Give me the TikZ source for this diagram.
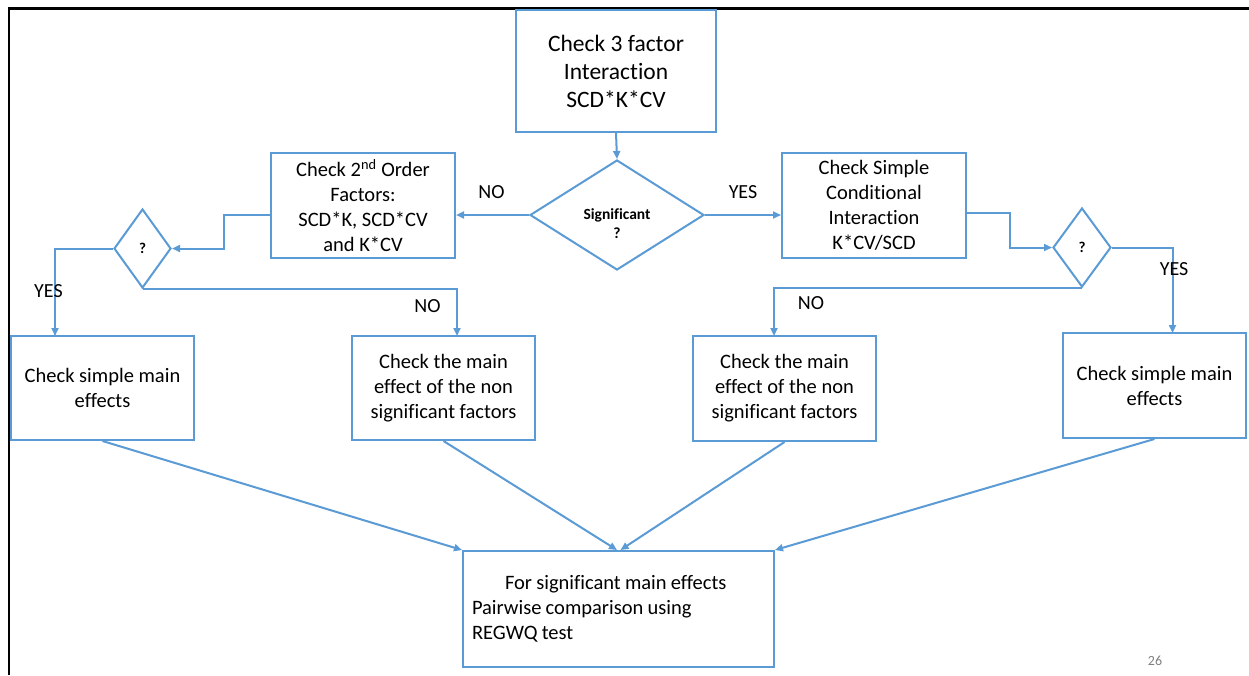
\documentclass[tikz,border=0pt]{standalone}
\usepackage{fontspec}
\setmainfont{Carlito}[RawFeature=-liga]
\usetikzlibrary{arrows.meta,shapes.geometric}
\definecolor{flowblue}{HTML}{5B9BD5}
\definecolor{pagegray}{HTML}{7F7F7F}
\begin{document}
\begin{tikzpicture}[x=1pt,y=-1pt,
  stepbox/.style={draw=flowblue, line width=2pt, fill=white, align=center,
    inner sep=0pt, font=\fontsize{20.5}{25}\selectfont},
  decision/.style={diamond, draw=flowblue, line width=2pt, fill=white,
    inner sep=0pt, font=\bfseries\fontsize{15}{19}\selectfont},
  flow/.style={draw=flowblue, line width=2pt,
    -{Triangle[length=8pt,width=7pt]}},
  answer/.style={font=\fontsize{20}{22}\selectfont}]

\useasboundingbox (0,0) rectangle (1249,675);
\fill[white] (0,0) rectangle (1249,675);

% slide frame
\draw[black, line width=2.8pt] (9,675) -- (9,8.5) -- (1249,8.5);

% top row
\node[stepbox, minimum width=200, minimum height=122,
      font=\fontsize{23.5}{28}\selectfont] (top) at (616,71)
  {Check 3 factor\\Interaction\\SCD*K*CV};
\node[decision, minimum width=174, minimum height=110,
      label={[font=\bfseries\fontsize{15.5}{19}\selectfont, align=center,
              yshift=-9pt]center:Significant\\?}] (sig) at (617,215) {};

% second row
\node[stepbox, minimum width=184, minimum height=105] (second) at (363,205.5)
  {Check 2\textsuperscript{nd} Order\\Factors:\\SCD*K, SCD*CV\\and K*CV};
\node[stepbox, minimum width=184, minimum height=105] (cond) at (874,205.5)
  {Check Simple\\Conditional\\Interaction\\K*CV/SCD};
\node[decision, minimum width=57, minimum height=79] (qleft) at (142.5,248.5) {?};
\node[decision, minimum width=58, minimum height=79] (qright) at (1082,247.5) {?};

% third row
\node[stepbox, minimum width=183, minimum height=104] (simpleL) at (102.5,388)
  {Check simple main\\effects};
\node[stepbox, minimum width=183, minimum height=104] (nonsigL) at (443.5,388)
  {Check the main\\effect of the non\\significant factors};
\node[stepbox, minimum width=183, minimum height=105] (nonsigR) at (784.5,388.5)
  {Check the main\\effect of the non\\significant factors};
\node[stepbox, minimum width=183, minimum height=105] (simpleR) at (1154.5,385.5)
  {Check simple main\\effects};

% final step, with slightly tighter word spacing
\node[stepbox, minimum width=311, minimum height=116, text width=293, align=left]
  (final) at (618.5,609)
  {\spaceskip=4.2pt plus 1pt\relax
   \hspace*{33pt}For significant main effects\\Pairwise comparison using\\REGWQ test};

% entry points of the elbow connectors
\coordinate (inSL) at (55,336);
\coordinate (inNL) at (457,336);
\coordinate (inNR) at (774,336);
\coordinate (inSR) at (1172.5,333);

% connectors
\draw[flow] (top.south) -- (sig.north);
\draw[flow] (sig.west) -- (sig.west -| second.east);
\draw[flow] (sig.east) -- (sig.east -| cond.west);
\draw[flow] (second.west |- sig.west) -- ++(-46,0) |- (qleft.east);
\draw[flow] (cond.east |- 0,213) -- ++(43,0) |- (qright.west);
\draw[flow] (qleft.west) -| (inSL);
\draw[flow] (qleft.south) -| (inNL);
\draw[flow] (qright.east) -| (inSR);
\draw[flow] (qright.south) -| (inNR);
\draw[flow] (simpleL.south) -- (final.north west);
\draw[flow] (nonsigL.south) -- ([xshift=-1.5pt]final.north);
\draw[flow] (nonsigR.south) -- ([xshift=2pt]final.north);
\draw[flow] (simpleR.south) -- (final.north east);

% branch labels
\node[answer] (noTop) at (491.5,192) {NO};
\node[answer] (yesTop) at (743,192) {YES};
\node[answer] (yesL) at (48.5,291) {YES};
\node[answer] (noL) at (427.5,306) {NO};
\node[answer] (noR) at (811,303.5) {NO};
\node[answer] (yesR) at (1174,269) {YES};

% slide number
\node[text=pagegray, font=\fontsize{14}{16}\selectfont] (pagenum) at (1155,661) {26};
\end{tikzpicture}
\end{document}
